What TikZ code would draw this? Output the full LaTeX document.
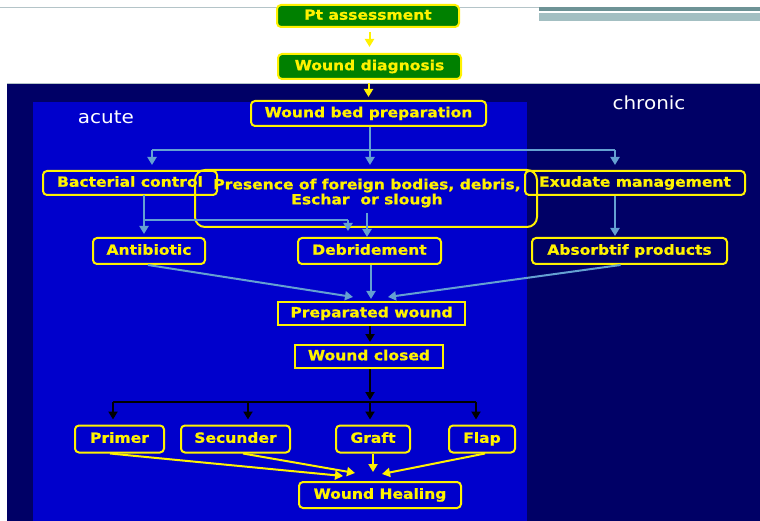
\documentclass[tikz,border=0pt]{standalone}
\usepackage{fontspec}
\setmainfont{DejaVu Sans}
\newfontfamily\lblfont[FakeStretch=1.11, BoldFeatures={FakeBold=0.8}]{DejaVu Sans}
\newfontfamily\sidefont[FakeStretch=1.11]{DejaVu Sans}
\usetikzlibrary{arrows.meta,calc}

\definecolor{navy}{RGB}{0,0,102}
\definecolor{panelblue}{RGB}{0,0,204}
\definecolor{boxgreen}{RGB}{0,128,0}
\definecolor{linkblue}{RGB}{100,160,210}
\definecolor{ruleA}{RGB}{110,147,150}
\definecolor{ruleB}{RGB}{163,191,194}
\definecolor{ruleC}{RGB}{180,196,200}

\tikzset{
  lbl/.style={draw=yellow, line width=2pt, text=yellow, inner sep=0pt,
    text height=10.5pt, text depth=3pt,
    font=\lblfont\fontsize{14}{16}\selectfont\bfseries, align=center},
  rbox/.style={lbl, rounded corners=4pt},
  sbox/.style={lbl},
  gbox/.style={rbox, fill=boxgreen},
  tip/.style={-{Triangle[length=8pt,width=9pt]}},
  blink/.style={draw=linkblue, line width=2pt},
  barrow/.style={blink, tip},
  yarrow/.style={draw=yellow, line width=2pt, tip},
  karrow/.style={draw=black, line width=2pt, tip},
  side/.style={text=white, font=\sidefont\fontsize{18}{20}\selectfont}
}

\begin{document}
\begin{tikzpicture}[x=1pt, y=-1pt]
\useasboundingbox (0,0) rectangle (760,521);
\fill[white] (0,0) rectangle (760,521);

% header rules
\draw[ruleC, line width=1pt] (0,7.5) -- (760,7.5);
\fill[ruleA] (539,7) rectangle (760,11);
\fill[ruleB] (539,13) rectangle (760,21);

% background panels
\fill[navy] (7,84) rectangle (760,521);
\draw[ruleC, line width=1pt] (7,84) -- (760,84);
\fill[panelblue] (33,102) rectangle (527,521);

\node[side] (acute) at (106,117) {acute};
\node[side] (chronic) at (649,103) {chronic};

% boxes
\node[gbox, minimum width=182pt, minimum height=22pt] (pt)   at (368,16)    {Pt assessment};
\node[gbox, minimum width=183pt, minimum height=25pt] (diag) at (369.5,66.5) {Wound diagnosis};
\node[rbox, minimum width=235pt, minimum height=25pt] (wbp)  at (368.5,113.5) {Wound bed preparation};

\node[rbox, minimum width=174pt, minimum height=24pt] (bact) at (130,183)   {Bacterial control};
\node[draw=yellow, line width=2pt, rounded corners=10pt,
      minimum width=342pt, minimum height=57pt] (pres) at (366,198.5) {};
\node[text=yellow, font=\lblfont\fontsize{14}{15}\selectfont\bfseries, align=center,
      inner sep=0pt] (prestext) at (367,193)
      {Presence of foreign bodies, debris,\\Eschar\ \ or slough};
\node[rbox, minimum width=220pt, minimum height=24pt] (exud) at (635,183)   {Exudate management};

\node[rbox, minimum width=112pt, minimum height=26pt] (anti) at (149,251)   {Antibiotic};
\node[rbox, minimum width=143pt, minimum height=26pt] (debr) at (369.5,251) {Debridement};
\node[rbox, minimum width=195pt, minimum height=26pt] (abso) at (629.5,251) {Absorbtif products};

\node[sbox, minimum width=187pt, minimum height=23pt] (prep) at (371.5,313.5) {Preparated wound};
\node[sbox, minimum width=148pt, minimum height=23pt] (clos) at (369,356.5)   {Wound closed};

\node[rbox, minimum width=89pt,  minimum height=27pt] (prim) at (119.5,439) {Primer};
\node[rbox, minimum width=109pt, minimum height=27pt] (secu) at (235.5,439) {Secunder};
\node[rbox, minimum width=74pt,  minimum height=27pt] (graf) at (373,439)   {Graft};
\node[rbox, minimum width=66pt,  minimum height=27pt] (flap) at (482,439)   {Flap};
\node[rbox, minimum width=162pt, minimum height=26pt] (heal) at (380,495)   {Wound Healing};

% top chain
\draw[yarrow, shorten <=4pt, shorten >=6pt] (diag.north |- pt.south) -- (diag.north);
\draw[yarrow, shorten <=3pt, shorten >=3pt] (wbp.north |- diag.south) -- (wbp.north);

% split below wound bed preparation
\coordinate (bm) at (370,150);
\coordinate (bl) at (152,150);
\coordinate (br) at (615,150);
\draw[blink] (bm |- wbp.south) -- (bm);
\draw[blink] (bl) -- (br);
\draw[barrow, shorten >=5pt] (bl) -- (bl |- bact.north);
\draw[barrow, shorten >=4pt] (bm) -- (bm |- pres.north);
\draw[barrow, shorten >=5pt] (br) -- (br |- exud.north);

% second row
\coordinate (bx) at (144,195);
\coordinate (jx) at (144,220);
\coordinate (dx) at (348,220);
\coordinate (pd) at (367,213);
\draw[barrow, shorten >=3pt] (bx) -- (bx |- anti.north);
\draw[blink] (jx) -- (dx);
\draw[barrow, shorten >=6pt] (dx) -- (dx |- debr.north);
\draw[barrow, shorten >=0pt] (pd) -- (pd |- debr.north);
\draw[barrow, shorten >=1pt] (br |- exud.south) -- (br |- abso.north);

% into prepared wound
\coordinate (tl) at (353,297);
\coordinate (tm) at (371,299);
\coordinate (tr) at (388,297);
\draw[barrow] ($(anti.south)+(-1,0)$) -- (tl);
\draw[barrow] (tm |- debr.south) -- (tm);
\draw[barrow] ($(abso.south)+(-9,0)$) -- (tr);

% closure
\coordinate (kp) at (370,330);
\draw[karrow, shorten >=2pt] (kp |- prep.south) -- (kp |- clos.north);
\coordinate (kc) at (370,400);
\draw[karrow] (kc |- clos.south) -- (kc);
\coordinate (k1) at (113,402);
\coordinate (k2) at (248,402);
\coordinate (k3) at (370,402);
\coordinate (k4) at (476,402);
\draw[black, line width=2pt] (k1) -- (k4);
\draw[karrow, shorten >=5pt] (k1) -- (k1 |- prim.north);
\draw[karrow, shorten >=5pt] (k2) -- (k2 |- secu.north);
\draw[karrow, shorten >=5pt] (k3) -- (k3 |- graf.north);
\draw[karrow, shorten >=5pt] (k4) -- (k4 |- flap.north);

% into wound healing
\coordinate (h1) at (343,476);
\coordinate (h2) at (355,473);
\coordinate (h3) at (373,472);
\coordinate (h4) at (382,474);
\draw[yarrow] ($(prim.south)+(-9.5,0)$) -- (h1);
\draw[yarrow] ($(secu.south)+(7.5,0)$) -- (h2);
\draw[yarrow] (h3 |- graf.south) -- (h3);
\draw[yarrow] ($(flap.south)+(3,0)$) -- (h4);
\end{tikzpicture}
\end{document}
